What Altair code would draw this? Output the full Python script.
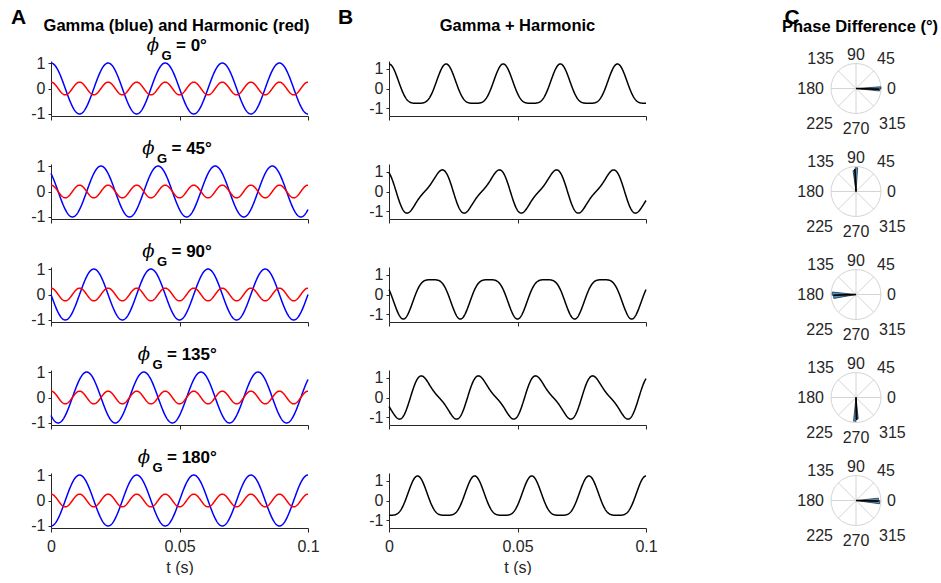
import altair as alt
import numpy as np
import pandas as pd

# ---------------- data ----------------
phase_deg = [0, 45, 90, 135, 180]          # gamma phase per row
gamma_freq_hz = 45
gamma_amp = 1.0
harm_freq_hz = 90
harm_amp = 0.25
harm_phase_deg = 0
t_limits = [0.0, 0.1]
n_samples = 801

x_ticks = [0, 0.05, 0.1]
y_ticks = [-1, 0, 1]

polar_angles = [0, 45, 90, 135, 180, 225, 270, 315]
# rose histogram of phase difference, per row: bin start/end (deg), radius (fraction)
rose_start = [[-6, -1], [86, 92], [174, 182], [264, 270], [-8, 0]]
rose_end = [[-1, 4], [92, 98], [182, 190], [270, 276], [0, 6]]
rose_r = [[0.95, 1.0], [0.95, 0.85], [0.95, 0.9], [0.95, 0.85], [0.95, 0.9]]
mean_angle = [-2, 93, 182, 272, 358]
mean_len = [0.92, 0.9, 0.9, 0.9, 0.9]

# ---------------- style ----------------
FONT = "Liberation Sans"
AX = "#262626"
GRID = "#d4d4d4"
W, H = 257, 55
CW = 180           # polar panel width
CX = 129           # polar centre (px from panel left)
PR = 25            # polar radius px

t = np.linspace(t_limits[0], t_limits[1], n_samples)
harm = harm_amp * np.cos(2 * np.pi * harm_freq_hz * t + np.deg2rad(harm_phase_deg))


def y_axis():
    return alt.Axis(values=y_ticks, title=None, labelFontSize=16, labelFont=FONT,
                    labelColor=AX, domainColor=AX, tickColor=AX, tickSize=3,
                    labelPadding=3, grid=False,
                    labelExpr="replace(datum.label, '\u2212', '-')")


def x_axis(bottom):
    if bottom:
        return alt.Axis(values=x_ticks, format="~g", title="t (s)", labelFontSize=16,
                        labelFont=FONT, labelColor=AX, domainColor=AX, tickColor=AX,
                        tickSize=4, labelPadding=6, grid=False, titleFont=FONT,
                        titleFontSize=16, titleFontWeight="normal", titleColor=AX,
                        titlePadding=5, labelFlush=False)
    return alt.Axis(values=x_ticks, labels=False, title=None, domainColor=AX,
                    tickColor=AX, tickSize=4, grid=False)


def text_layer(s, x, y, size=16, weight="bold", align="center", baseline="middle",
               style="normal", font=FONT):
    return alt.Chart(pd.DataFrame({"s": [s]})).mark_text(
        fontSize=size, fontWeight=weight, align=align, baseline=baseline,
        fontStyle=style, font=font, color="black"
    ).encode(x=alt.value(x), y=alt.value(y), text="s:N")


def phi_title(deg):
    nd = len(str(deg))
    wg = 56 + 9 * nd
    left = W / 2 - wg / 2
    return [
        text_layer("\u03d5", left + 6, -15.5, size=18, weight="normal", style="italic",
                   font="DejaVu Serif"),
        text_layer("G", left + 19.5, -5.5, size=13),
        text_layer(f"= {deg}\u00b0", left + 29, -10.5, size=17, align="left",
                   baseline="alphabetic"),
    ]


def panel_a(i):
    g = gamma_amp * np.cos(2 * np.pi * gamma_freq_hz * t + np.deg2rad(phase_deg[i]))
    dfg = pd.DataFrame({"t": t, "v": g})
    dfh = pd.DataFrame({"t": t, "v": harm})
    xs = alt.Scale(domain=t_limits, nice=False, zero=False)
    ys = alt.Scale(domain=[-1.08, 1.08], nice=False, zero=False)
    bottom = i == len(phase_deg) - 1
    enc = dict(x=alt.X("t:Q", scale=xs, axis=x_axis(bottom)),
               y=alt.Y("v:Q", scale=ys, axis=y_axis()))
    lg = alt.Chart(dfg).mark_line(color="#0000ff", strokeWidth=1.5).encode(**enc)
    lh = alt.Chart(dfh).mark_line(color="#ff0000", strokeWidth=1.5).encode(**enc)
    layers = [lg, lh] + phi_title(phase_deg[i])
    if i == 0:
        layers.append(text_layer("Gamma (blue) and Harmonic (red)", W / 2 - 3, -35.5,
                                 size=16.5))
        layers.append(text_layer("A", -32.5, -43, size=21))
    return alt.layer(*layers).properties(width=W, height=H)


def panel_b(i):
    g = gamma_amp * np.cos(2 * np.pi * gamma_freq_hz * t + np.deg2rad(phase_deg[i]))
    df = pd.DataFrame({"t": t, "v": g + harm})
    xs = alt.Scale(domain=t_limits, nice=False, zero=False)
    ys = alt.Scale(domain=[-1.4, 1.4], nice=False, zero=False)
    bottom = i == len(phase_deg) - 1
    line = alt.Chart(df).mark_line(color="black", strokeWidth=1.5).encode(
        x=alt.X("t:Q", scale=xs, axis=x_axis(bottom)),
        y=alt.Y("v:Q", scale=ys, axis=y_axis()))
    layers = [line]
    if i == 0:
        layers.append(text_layer("Gamma + Harmonic", W / 2, -35.5, size=16.5))
        layers.append(text_layer("B", -43.3, -43, size=21))
    return alt.layer(*layers).properties(width=W, height=H)


# polar label placement (data units of radius)
lab_left = {0: (1.24, 0.0), 45: (0.84, 1.2), 315: (0.92, -1.4)}
lab_right = {180: (-1.28, 0.0), 135: (-0.88, 1.2), 225: (-0.92, -1.4)}
lab_center = {90: (0.0, 1.36), 270: (0.0, -1.6)}


def panel_c(i):
    xsc = alt.Scale(domain=[-CX / PR, (CW - CX) / PR], nice=False, zero=False)
    ysc = alt.Scale(domain=[-H / 2 / PR, H / 2 / PR], nice=False, zero=False)
    X = lambda f: alt.X(f, scale=xsc, axis=None)
    Y = lambda f: alt.Y(f, scale=ysc, axis=None)
    circle = alt.Chart(pd.DataFrame({"x": [0.0], "y": [0.0]})).mark_point(
        shape="circle", size=(2 * PR) ** 2, filled=False, color=GRID, strokeWidth=1,
        opacity=1).encode(x=X("x:Q"), y=Y("y:Q"))
    a = np.deg2rad(polar_angles)
    spokes_df = pd.DataFrame({"x": 0.0, "y": 0.0, "x2": np.cos(a), "y2": np.sin(a)})
    spokes = alt.Chart(spokes_df).mark_rule(color=GRID, strokeWidth=1).encode(
        x=X("x:Q"), y=Y("y:Q"), x2="x2:Q", y2="y2:Q")
    wedge_df = pd.DataFrame({
        "x": 0.0, "y": 0.0,
        "th": [np.deg2rad(90 - e) for e in rose_end[i]],
        "th2": [np.deg2rad(90 - s) for s in rose_start[i]],
        "rp": [r * PR for r in rose_r[i]],
    })
    wedges = alt.Chart(wedge_df).mark_arc(color="#4796d6", stroke="#1a1a1a",
                                          strokeWidth=0.7).encode(
        x=X("x:Q"), y=Y("y:Q"),
        theta=alt.Theta("th:Q", scale=None), theta2="th2:Q",
        radius=alt.Radius("rp:Q", scale=None))
    ma = np.deg2rad(mean_angle[i])
    mean_df = pd.DataFrame({"x": [0.0], "y": [0.0], "x2": [mean_len[i] * np.cos(ma)],
                            "y2": [mean_len[i] * np.sin(ma)]})
    mean = alt.Chart(mean_df).mark_rule(color="black", strokeWidth=1.5).encode(
        x=X("x:Q"), y=Y("y:Q"), x2="x2:Q", y2="y2:Q")
    layers = [circle, spokes, wedges, mean]
    for d, align in ((lab_left, "left"), (lab_right, "right"), (lab_center, "center")):
        df = pd.DataFrame({"lab": [str(k) for k in d], "x": [v[0] for v in d.values()],
                           "y": [v[1] for v in d.values()]})
        layers.append(alt.Chart(df).mark_text(fontSize=16, font=FONT, color=AX,
                                              align=align, baseline="middle").encode(
            x=X("x:Q"), y=Y("y:Q"), text="lab:N"))
    if i == 0:
        layers.append(text_layer("Phase Difference (\u00b0)", CX + 4, -34.5,
                                 size=16.5))
        layers.append(text_layer("C", CX - 64, -43, size=21))
    return alt.layer(*layers).properties(width=CW, height=H)


panels = []
for i in range(len(phase_deg)):
    panels += [panel_a(i), panel_b(i), panel_c(i)]

chart = alt.concat(*panels, columns=3, spacing={"row": 48, "column": 81},
                   bounds="flush").properties(
    padding={"left": 10, "top": 7, "right": 0, "bottom": 0},
    background="white",
).configure_view(strokeWidth=0)

chart.save("out.html", embed_options={"renderer": "svg", "actions": False})
